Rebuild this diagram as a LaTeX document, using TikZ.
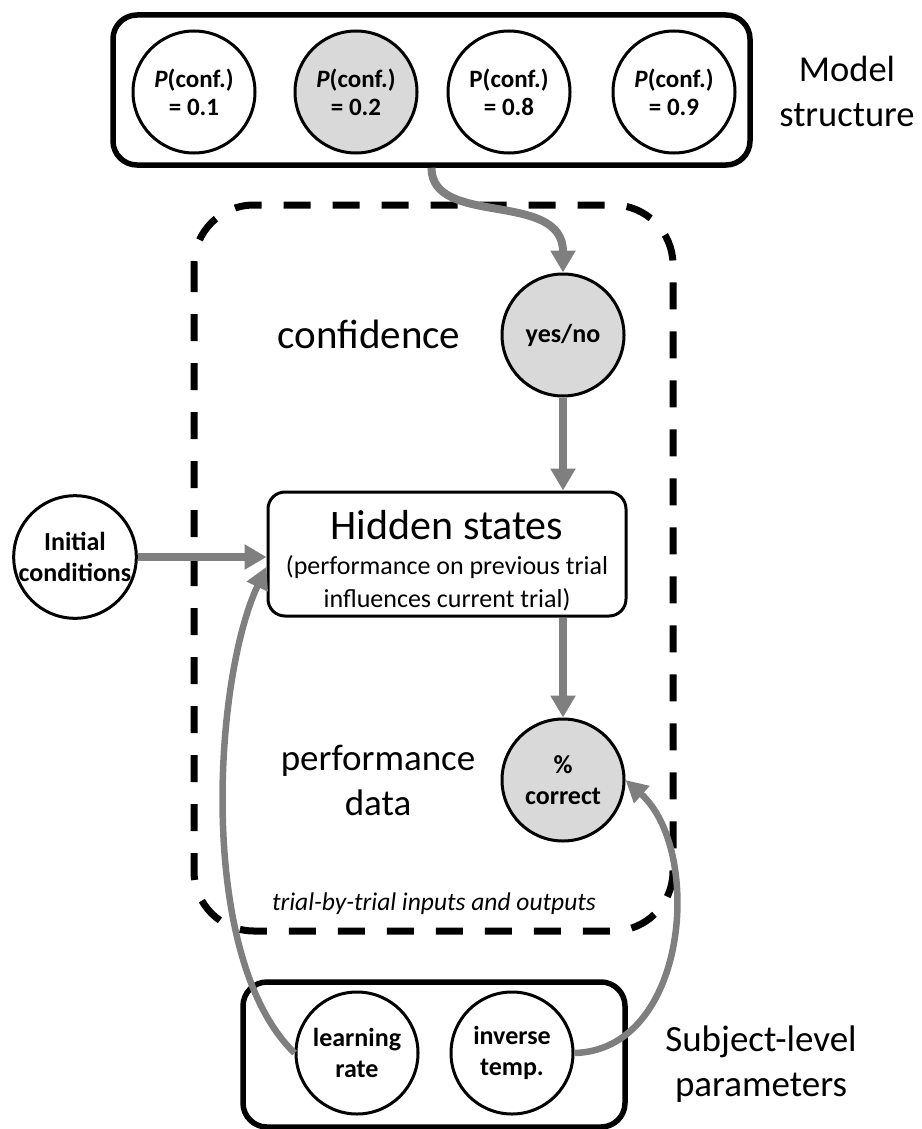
\documentclass[tikz,border=0pt]{standalone}
\usepackage{fontspec}
\setmainfont{Carlito}
\usetikzlibrary{arrows.meta,calc}
\definecolor{arrowgray}{RGB}{127,127,127}
\definecolor{fillgray}{RGB}{217,217,217}
\begin{document}
\begin{tikzpicture}[x=1pt,y=-1pt,
  circ/.style={draw, circle, line width=3pt, minimum size=122pt, inner sep=0pt, align=center, font=\fontsize{26}{31}\selectfont\bfseries},
  topcirc/.style={circ, font=\fontsize{25}{28}\selectfont\bfseries},
  filled/.style={fill=fillgray},
  outerbox/.style={draw, line width=5.5pt, rounded corners=24pt, inner sep=0pt},
  conn/.style={draw=arrowgray, line width=8pt, -{Triangle[length=22pt,width=24pt]}},
  curvconn/.style={draw=arrowgray, line width=6.5pt, -{Triangle[length=22pt,width=22pt]}},
  biglabel/.style={font=\fontsize{37}{45}\selectfont, align=center},
]
\useasboundingbox (0,0) rectangle (921,1129);

% dashed container
\draw[line width=7pt, dash pattern=on 27pt off 22pt, rounded corners=60pt] (194,205) rectangle (673,931);

% model structure box
\node[outerbox, minimum width=637pt, minimum height=150pt] (model) at (431.5,90) {};
\node[topcirc] (c1) at (194,92) {\textit{P}(conf.)\\= 0.1};
\node[topcirc, filled] (c2) at (356,92) {\textit{P}(conf.)\\= 0.2};
\node[topcirc] (c3) at (509,92) {P(conf.)\\= 0.8};
\node[topcirc] (c4) at (674,92) {\textit{P}(conf.)\\= 0.9};
\node[biglabel, font=\fontsize{36.5}{45}\selectfont] (modellabel) at (847,91) {Model\\structure};

% inner nodes
\node[circ, filled] (yesno) at (563,335) {yes/no};
\node[biglabel, font=\fontsize{41}{45}\selectfont, anchor=base] (conflabel) at (369,348) {confidence};
\node[draw, line width=3pt, rounded corners=17pt, minimum width=358pt, minimum height=124pt, align=center, font=\fontsize{26}{33}\selectfont, inner sep=0pt] (hidden) at (447,554)
  {{\fontsize{42}{44}\selectfont\rule{0pt}{42pt}Hidden states}\\[2pt](performance on previous trial\\influences current trial)};
\node[circ] (init) at (75,557) {Initial\\conditions};
\node[circ, filled] (pct) at (563,780) {\%\\correct};
\node[biglabel] (perflabel) at (378,780) {performance\\data};
\node[font=\fontsize{25.5}{30}\selectfont\itshape, anchor=base] (triallabel) at (434,910) {trial-by-trial inputs and outputs};

% subject-level box
\node[outerbox, minimum width=382pt, minimum height=145pt] (subj) at (434,1054.5) {};
\node[circ] (lr) at (357,1053) {learning\\rate};
\node[circ] (it) at (512,1053) {inverse\\temp.};
\node[biglabel] (subjlabel) at (761,1064) {Subject-level\\parameters};

% connectors
\draw[conn] (model.south) .. controls +(0,60) and +(0,-83) .. (yesno.north);
\draw[conn] (yesno.south) -- (yesno.south |- hidden.north);
\draw[conn] (hidden.south -| pct.north) -- (pct.north);
\draw[conn] (init.east) -- (init.east -| hidden.west);
\coordinate (hin) at ($(hidden.north west)!0.6!(hidden.south west)$);
\draw[curvconn] (lr.west) .. controls +(-98,-95) and +(-53,113) .. (hin);
\draw[curvconn] (it.east) .. controls +(114,-3) and +(78,70) .. (pct.east);
\end{tikzpicture}
\end{document}
